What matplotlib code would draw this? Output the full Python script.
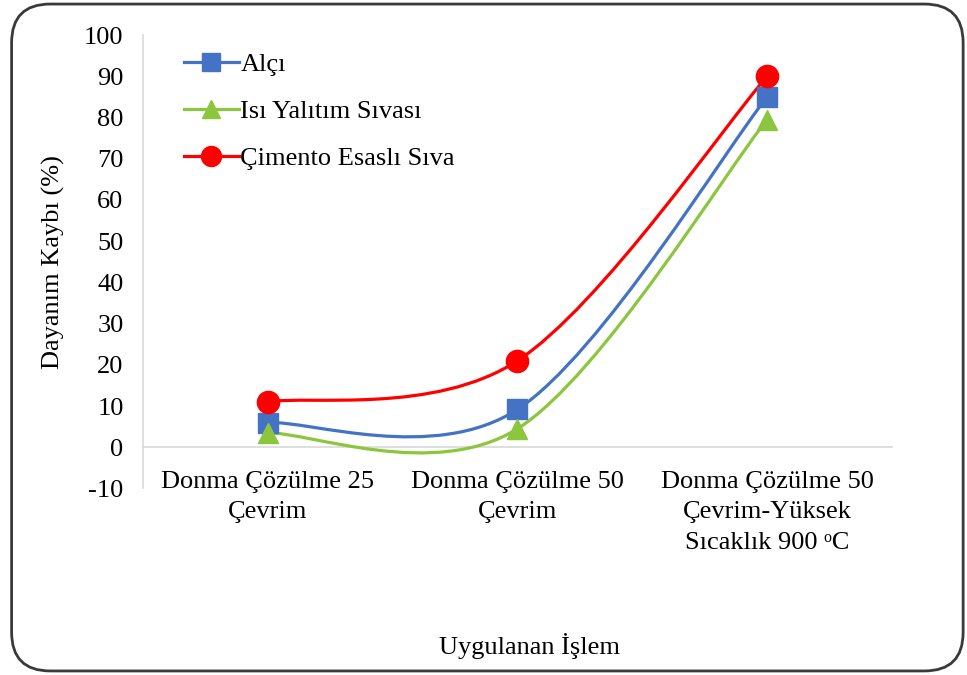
import matplotlib.pyplot as plt
import numpy as np
from matplotlib.lines import Line2D
from matplotlib.patches import FancyBboxPatch, PathPatch
from matplotlib.path import Path

# ---------------- #
# data (read off)  #
# ---------------- #
categories = [
    "Donma Çözülme 25\nÇevrim",
    "Donma Çözülme 50\nÇevrim",
    "Donma Çözülme 50\nÇevrim-Yüksek\nSıcaklık 900 \u1d52C",
]
alci = [6.0, 9.2, 85.0]
isi_yalitim = [3.5, 4.5, 79.5]
cimento = [11.0, 21.0, 90.0]

series = [
    ("Alçı", alci, "#4472C4", "s", 14),
    ("Isı Yalıtım Sıvası", isi_yalitim, "#8CC63F", "^", 15),
    ("Çimento Esaslı Sıva", cimento, "#FF0000", "o", 16),
]

plt.rcParams["font.family"] = ["Liberation Serif", "DejaVu Serif"]
plt.rcParams["axes.unicode_minus"] = False
FS = 19


def smooth_path(xs, ys):
    # Excel-like smoothed line: cubic Bezier segments, Catmull-Rom tangents
    pts = np.column_stack([xs, ys]).astype(float)
    n = len(pts)
    verts = [pts[0]]
    codes = [Path.MOVETO]
    for i in range(n - 1):
        p_prev = pts[max(i - 1, 0)]
        p0, p1 = pts[i], pts[i + 1]
        p_next = pts[min(i + 2, n - 1)]
        c1 = p0 + (p1 - p_prev) / 6.0
        c2 = p1 - (p_next - p0) / 6.0
        verts += [c1, c2, p1]
        codes += [Path.CURVE4] * 3
    return Path(verts, codes)


fig = plt.figure(figsize=(9.67, 6.75), dpi=100, facecolor="white")
ax = fig.add_axes([0.1479, 0.2763, 0.7745, 0.6717])

# spines first: set_position resets the tick objects
for side in ("top", "right"):
    ax.spines[side].set_visible(False)
ax.spines["bottom"].set_position(("data", 0))
for side in ("left", "bottom"):
    ax.spines[side].set_color("#D9D9D9")
    ax.spines[side].set_linewidth(1.2)

x = np.arange(len(categories))
handles = []
for name, vals, col, mk, ms in series:
    ax.add_patch(PathPatch(smooth_path(x, vals), fill=False, edgecolor=col,
                           lw=2.3, capstyle="round", zorder=3))
    ax.plot(x, vals, ls="none", marker=mk, ms=ms, color=col, mec=col,
            zorder=4)
    handles.append(Line2D([], [], color=col, lw=2.3, marker=mk, ms=ms * 0.9,
                          mec=col, label=name))

ax.set_xlim(-0.5, 2.5)
ax.set_ylim(-10, 100)
ax.set_yticks(np.arange(-10, 101, 10))
ax.set_xticks(x)
ax.set_xticklabels(categories, fontsize=FS, linespacing=1.5)
ax.tick_params(axis="y", labelsize=FS, length=0, pad=14)
ax.tick_params(axis="x", length=0, pad=17)

ax.set_ylabel("Dayanım Kaybı (%)", fontsize=FS, labelpad=14)
fig.text(0.548, 0.043, "Uygulanan İşlem", fontsize=FS, ha="center",
         va="center")

ax.legend(handles=handles, loc="upper left",
          bbox_to_anchor=(0.04, 0.985), frameon=False, fontsize=FS,
          handlelength=2.1, handletextpad=0.05, labelspacing=0.9,
          borderaxespad=0.0)

# rounded chart frame
frame = FancyBboxPatch((0.012, 0.006), 0.984, 0.988,
                       boxstyle="round,pad=0,rounding_size=0.04",
                       transform=fig.transFigure, fill=False,
                       edgecolor="#3A3A3A", lw=2.0, mutation_aspect=967 / 675)
fig.patches.append(frame)

fig.savefig("out.png", dpi=100, facecolor="white")
